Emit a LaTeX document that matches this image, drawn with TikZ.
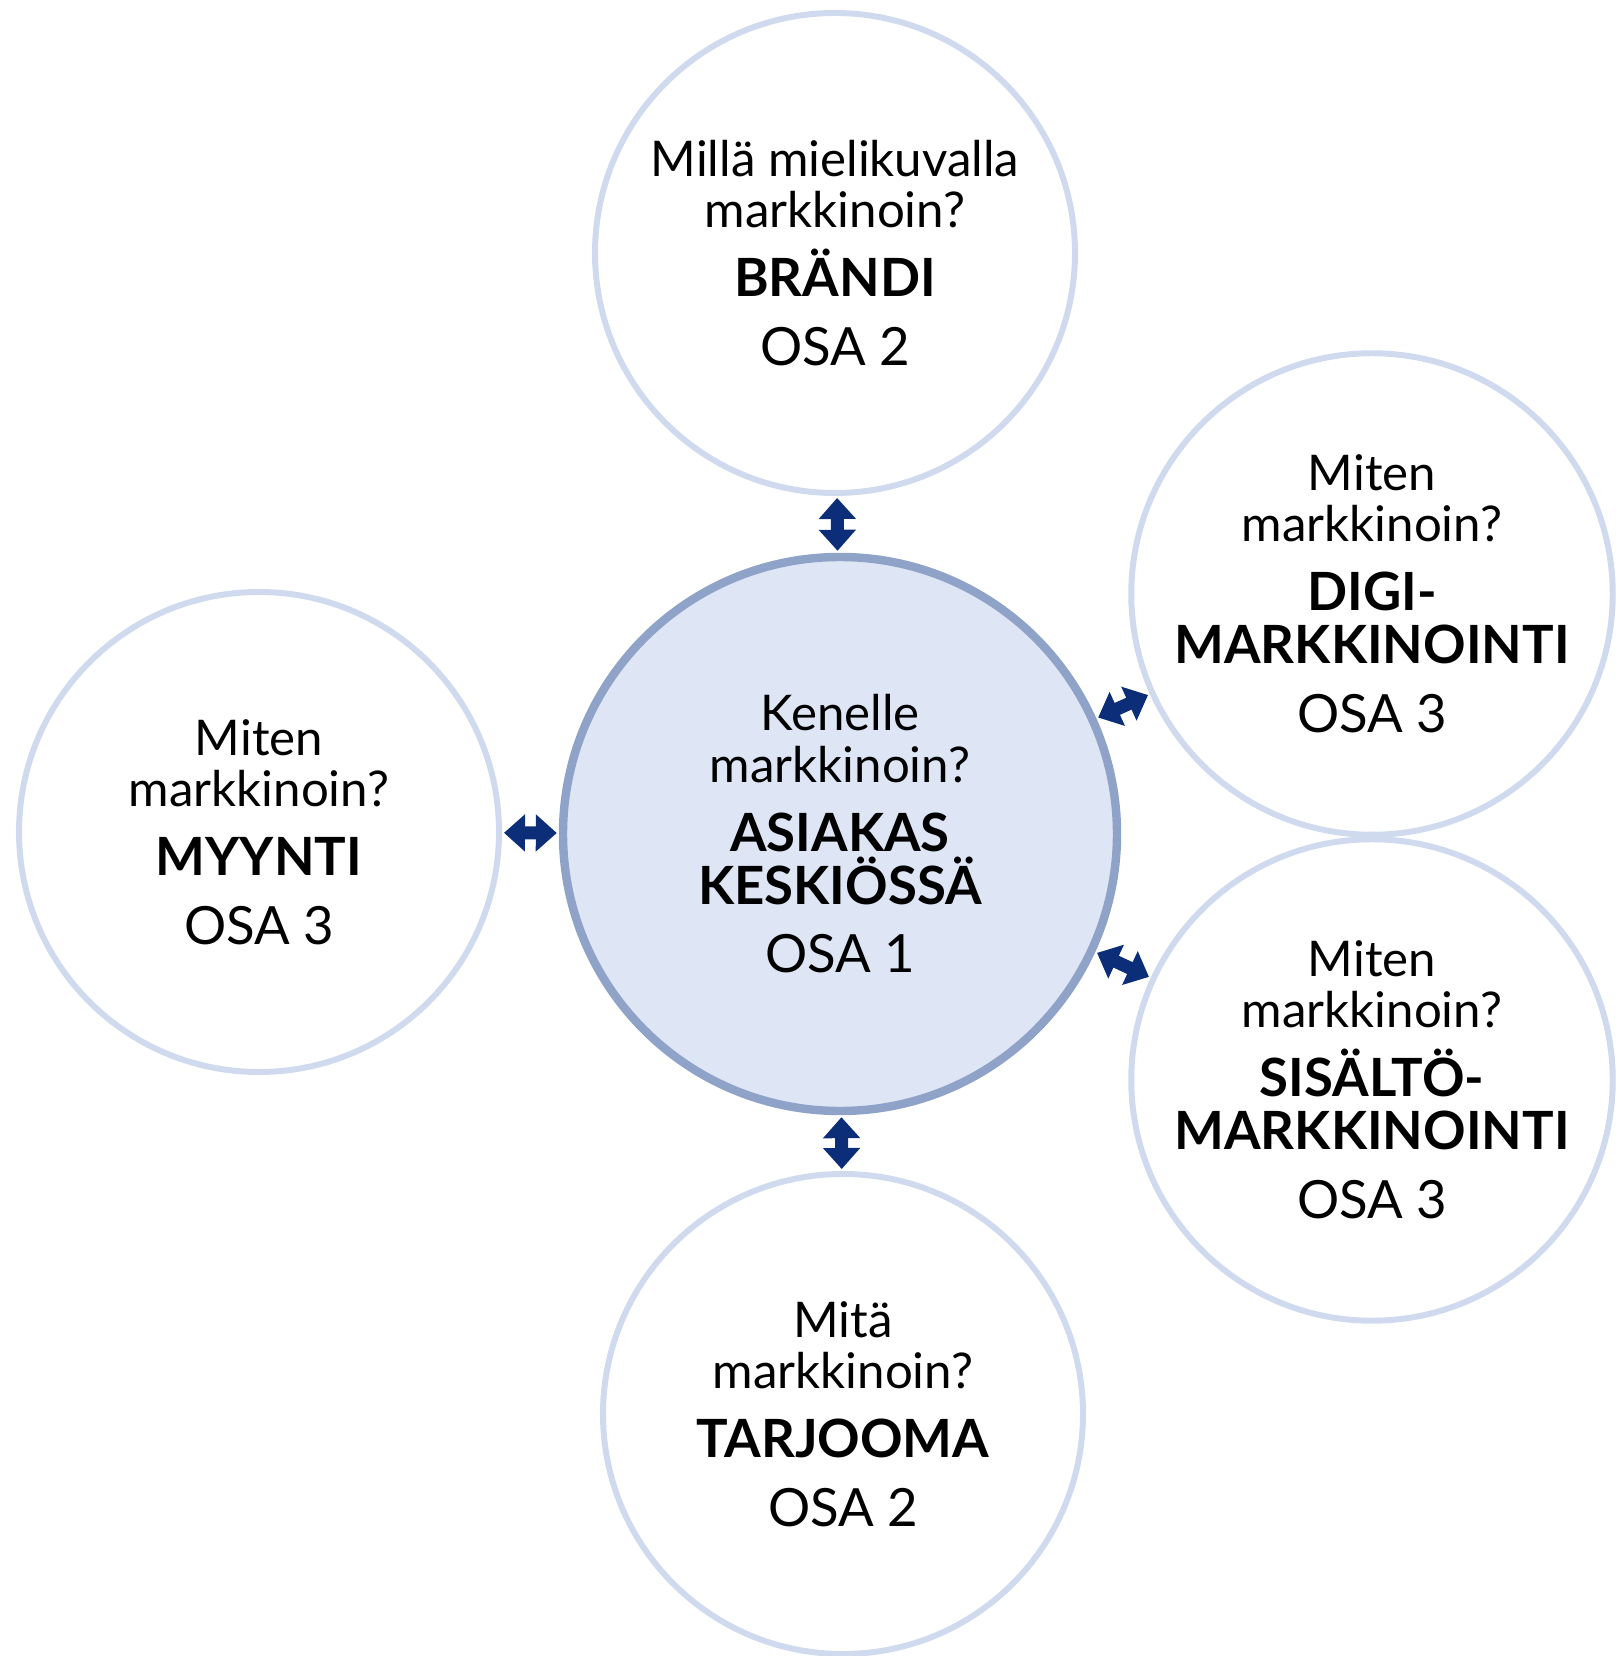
\documentclass[tikz,border=0pt]{standalone}
\usepackage{fontspec}
\setmainfont{Lato}
\usetikzlibrary{arrows.meta}
\definecolor{ringblue}{RGB}{208,218,238}
\definecolor{hubfill}{RGB}{222,229,244}
\definecolor{hubline}{RGB}{143,163,200}
\definecolor{arrownavy}{RGB}{12,45,120}
\newcommand{\osa}[1]{{\fontsize{15}{15}\selectfont OSA #1}}
\newcommand{\teema}[1]{{\fontsize{15}{15}\selectfont\bfseries #1}}
\begin{document}
\begin{tikzpicture}[>={Triangle[width=3.6mm,length=2.1mm]},
  ring/.style={circle,draw=ringblue,line width=1.7pt,fill=white,
    minimum size=4.80cm,inner sep=0pt,align=center,
    font=\fontsize{14}{14.6}\selectfont},
  hub/.style={ring,fill=hubfill,draw=hubline,line width=2.4pt,minimum size=5.54cm}]
 \useasboundingbox (0,0) rectangle (16.17,16.56);
 \node[hub] (asiakas) at (8.40,8.22) {Kenelle\\markkinoin?\\[5pt]\teema{ASIAKAS}\\[0.5pt]\teema{KESKIÖSSÄ}\\[5pt]\osa{1}};
 \node[ring] (brandi) at (8.35,14.03) {Millä mielikuvalla\\markkinoin?\\[5pt]\teema{BRÄNDI}\\[5pt]\osa{2}};
 \node[ring] (digi) at (13.72,10.62) {Miten\\markkinoin?\\[5pt]\teema{DIGI-}\\[0.5pt]\teema{MARKKINOINTI}\\[5pt]\osa{3}};
 \node[ring] (sisalto) at (13.72,5.76) {Miten\\markkinoin?\\[5pt]\teema{SISÄLTÖ-}\\[0.5pt]\teema{MARKKINOINTI}\\[5pt]\osa{3}};
 \node[ring] (myynti) at (2.59,8.24) {Miten\\markkinoin?\\[5pt]\teema{MYYNTI}\\[5pt]\osa{3}};
 \node[ring] (tarjooma) at (8.43,2.42) {Mitä\\markkinoin?\\[5pt]\teema{TARJOOMA}\\[5pt]\osa{2}};
 \foreach \kohde in {brandi,digi,sisalto,myynti,tarjooma}
   \draw[<->,arrownavy,line width=1.3mm,shorten <=0.2mm,shorten >=0.2mm] (asiakas) -- (\kohde);
\end{tikzpicture}
\end{document}
